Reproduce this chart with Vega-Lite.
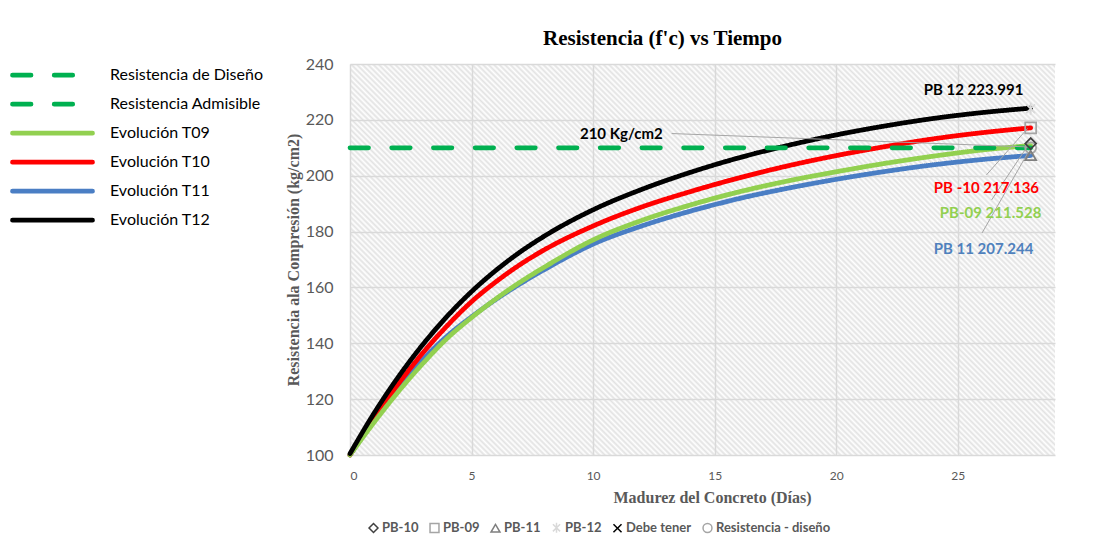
{
"$schema": "https://vega.github.io/schema/vega-lite/v6.json",
"width": 705, "height": 391,
"autosize": {"type": "none"},
"padding": {"left": 350, "top": 64, "right": 43, "bottom": 93},
"background": "white",
"view": {"stroke": null, "fill": {"gradient": "linear", "x1": 0, "y1": 1, "x2": 1.1889, "y2": 0.3406, "stops": [
{"offset":0,"color":"#fff"},{"offset":0.0025,"color":"#e2e2e2"},{"offset":0.005,"color":"#fff"},{"offset":0.0075,"color":"#e2e2e2"},
{"offset":0.01,"color":"#fff"},{"offset":0.0125,"color":"#e2e2e2"},{"offset":0.015,"color":"#fff"},{"offset":0.0175,"color":"#e2e2e2"},
{"offset":0.02,"color":"#fff"},{"offset":0.0225,"color":"#e2e2e2"},{"offset":0.025,"color":"#fff"},{"offset":0.0275,"color":"#e2e2e2"},
{"offset":0.03,"color":"#fff"},{"offset":0.0325,"color":"#e2e2e2"},{"offset":0.035,"color":"#fff"},{"offset":0.0375,"color":"#e2e2e2"},
{"offset":0.04,"color":"#fff"},{"offset":0.0425,"color":"#e2e2e2"},{"offset":0.045,"color":"#fff"},{"offset":0.0475,"color":"#e2e2e2"},
{"offset":0.05,"color":"#fff"},{"offset":0.0525,"color":"#e2e2e2"},{"offset":0.055,"color":"#fff"},{"offset":0.0575,"color":"#e2e2e2"},
{"offset":0.06,"color":"#fff"},{"offset":0.0625,"color":"#e2e2e2"},{"offset":0.065,"color":"#fff"},{"offset":0.0675,"color":"#e2e2e2"},
{"offset":0.07,"color":"#fff"},{"offset":0.0725,"color":"#e2e2e2"},{"offset":0.075,"color":"#fff"},{"offset":0.0775,"color":"#e2e2e2"},
{"offset":0.08,"color":"#fff"},{"offset":0.0825,"color":"#e2e2e2"},{"offset":0.085,"color":"#fff"},{"offset":0.0875,"color":"#e2e2e2"},
{"offset":0.09,"color":"#fff"},{"offset":0.0925,"color":"#e2e2e2"},{"offset":0.095,"color":"#fff"},{"offset":0.0975,"color":"#e2e2e2"},
{"offset":0.10,"color":"#fff"},{"offset":0.1025,"color":"#e2e2e2"},{"offset":0.105,"color":"#fff"},{"offset":0.1075,"color":"#e2e2e2"},
{"offset":0.11,"color":"#fff"},{"offset":0.1125,"color":"#e2e2e2"},{"offset":0.115,"color":"#fff"},{"offset":0.1175,"color":"#e2e2e2"},
{"offset":0.12,"color":"#fff"},{"offset":0.1225,"color":"#e2e2e2"},{"offset":0.125,"color":"#fff"},{"offset":0.1275,"color":"#e2e2e2"},
{"offset":0.13,"color":"#fff"},{"offset":0.1325,"color":"#e2e2e2"},{"offset":0.135,"color":"#fff"},{"offset":0.1375,"color":"#e2e2e2"},
{"offset":0.14,"color":"#fff"},{"offset":0.1425,"color":"#e2e2e2"},{"offset":0.145,"color":"#fff"},{"offset":0.1475,"color":"#e2e2e2"},
{"offset":0.15,"color":"#fff"},{"offset":0.1525,"color":"#e2e2e2"},{"offset":0.155,"color":"#fff"},{"offset":0.1575,"color":"#e2e2e2"},
{"offset":0.16,"color":"#fff"},{"offset":0.1625,"color":"#e2e2e2"},{"offset":0.165,"color":"#fff"},{"offset":0.1675,"color":"#e2e2e2"},
{"offset":0.17,"color":"#fff"},{"offset":0.1725,"color":"#e2e2e2"},{"offset":0.175,"color":"#fff"},{"offset":0.1775,"color":"#e2e2e2"},
{"offset":0.18,"color":"#fff"},{"offset":0.1825,"color":"#e2e2e2"},{"offset":0.185,"color":"#fff"},{"offset":0.1875,"color":"#e2e2e2"},
{"offset":0.19,"color":"#fff"},{"offset":0.1925,"color":"#e2e2e2"},{"offset":0.195,"color":"#fff"},{"offset":0.1975,"color":"#e2e2e2"},
{"offset":0.20,"color":"#fff"},{"offset":0.2025,"color":"#e2e2e2"},{"offset":0.205,"color":"#fff"},{"offset":0.2075,"color":"#e2e2e2"},
{"offset":0.21,"color":"#fff"},{"offset":0.2125,"color":"#e2e2e2"},{"offset":0.215,"color":"#fff"},{"offset":0.2175,"color":"#e2e2e2"},
{"offset":0.22,"color":"#fff"},{"offset":0.2225,"color":"#e2e2e2"},{"offset":0.225,"color":"#fff"},{"offset":0.2275,"color":"#e2e2e2"},
{"offset":0.23,"color":"#fff"},{"offset":0.2325,"color":"#e2e2e2"},{"offset":0.235,"color":"#fff"},{"offset":0.2375,"color":"#e2e2e2"},
{"offset":0.24,"color":"#fff"},{"offset":0.2425,"color":"#e2e2e2"},{"offset":0.245,"color":"#fff"},{"offset":0.2475,"color":"#e2e2e2"},
{"offset":0.25,"color":"#fff"},{"offset":0.2525,"color":"#e2e2e2"},{"offset":0.255,"color":"#fff"},{"offset":0.2575,"color":"#e2e2e2"},
{"offset":0.26,"color":"#fff"},{"offset":0.2625,"color":"#e2e2e2"},{"offset":0.265,"color":"#fff"},{"offset":0.2675,"color":"#e2e2e2"},
{"offset":0.27,"color":"#fff"},{"offset":0.2725,"color":"#e2e2e2"},{"offset":0.275,"color":"#fff"},{"offset":0.2775,"color":"#e2e2e2"},
{"offset":0.28,"color":"#fff"},{"offset":0.2825,"color":"#e2e2e2"},{"offset":0.285,"color":"#fff"},{"offset":0.2875,"color":"#e2e2e2"},
{"offset":0.29,"color":"#fff"},{"offset":0.2925,"color":"#e2e2e2"},{"offset":0.295,"color":"#fff"},{"offset":0.2975,"color":"#e2e2e2"},
{"offset":0.30,"color":"#fff"},{"offset":0.3025,"color":"#e2e2e2"},{"offset":0.305,"color":"#fff"},{"offset":0.3075,"color":"#e2e2e2"},
{"offset":0.31,"color":"#fff"},{"offset":0.3125,"color":"#e2e2e2"},{"offset":0.315,"color":"#fff"},{"offset":0.3175,"color":"#e2e2e2"},
{"offset":0.32,"color":"#fff"},{"offset":0.3225,"color":"#e2e2e2"},{"offset":0.325,"color":"#fff"},{"offset":0.3275,"color":"#e2e2e2"},
{"offset":0.33,"color":"#fff"},{"offset":0.3325,"color":"#e2e2e2"},{"offset":0.335,"color":"#fff"},{"offset":0.3375,"color":"#e2e2e2"},
{"offset":0.34,"color":"#fff"},{"offset":0.3425,"color":"#e2e2e2"},{"offset":0.345,"color":"#fff"},{"offset":0.3475,"color":"#e2e2e2"},
{"offset":0.35,"color":"#fff"},{"offset":0.3525,"color":"#e2e2e2"},{"offset":0.355,"color":"#fff"},{"offset":0.3575,"color":"#e2e2e2"},
{"offset":0.36,"color":"#fff"},{"offset":0.3625,"color":"#e2e2e2"},{"offset":0.365,"color":"#fff"},{"offset":0.3675,"color":"#e2e2e2"},
{"offset":0.37,"color":"#fff"},{"offset":0.3725,"color":"#e2e2e2"},{"offset":0.375,"color":"#fff"},{"offset":0.3775,"color":"#e2e2e2"},
{"offset":0.38,"color":"#fff"},{"offset":0.3825,"color":"#e2e2e2"},{"offset":0.385,"color":"#fff"},{"offset":0.3875,"color":"#e2e2e2"},
{"offset":0.39,"color":"#fff"},{"offset":0.3925,"color":"#e2e2e2"},{"offset":0.395,"color":"#fff"},{"offset":0.3975,"color":"#e2e2e2"},
{"offset":0.40,"color":"#fff"},{"offset":0.4025,"color":"#e2e2e2"},{"offset":0.405,"color":"#fff"},{"offset":0.4075,"color":"#e2e2e2"},
{"offset":0.41,"color":"#fff"},{"offset":0.4125,"color":"#e2e2e2"},{"offset":0.415,"color":"#fff"},{"offset":0.4175,"color":"#e2e2e2"},
{"offset":0.42,"color":"#fff"},{"offset":0.4225,"color":"#e2e2e2"},{"offset":0.425,"color":"#fff"},{"offset":0.4275,"color":"#e2e2e2"},
{"offset":0.43,"color":"#fff"},{"offset":0.4325,"color":"#e2e2e2"},{"offset":0.435,"color":"#fff"},{"offset":0.4375,"color":"#e2e2e2"},
{"offset":0.44,"color":"#fff"},{"offset":0.4425,"color":"#e2e2e2"},{"offset":0.445,"color":"#fff"},{"offset":0.4475,"color":"#e2e2e2"},
{"offset":0.45,"color":"#fff"},{"offset":0.4525,"color":"#e2e2e2"},{"offset":0.455,"color":"#fff"},{"offset":0.4575,"color":"#e2e2e2"},
{"offset":0.46,"color":"#fff"},{"offset":0.4625,"color":"#e2e2e2"},{"offset":0.465,"color":"#fff"},{"offset":0.4675,"color":"#e2e2e2"},
{"offset":0.47,"color":"#fff"},{"offset":0.4725,"color":"#e2e2e2"},{"offset":0.475,"color":"#fff"},{"offset":0.4775,"color":"#e2e2e2"},
{"offset":0.48,"color":"#fff"},{"offset":0.4825,"color":"#e2e2e2"},{"offset":0.485,"color":"#fff"},{"offset":0.4875,"color":"#e2e2e2"},
{"offset":0.49,"color":"#fff"},{"offset":0.4925,"color":"#e2e2e2"},{"offset":0.495,"color":"#fff"},{"offset":0.4975,"color":"#e2e2e2"},
{"offset":0.50,"color":"#fff"},{"offset":0.5025,"color":"#e2e2e2"},{"offset":0.505,"color":"#fff"},{"offset":0.5075,"color":"#e2e2e2"},
{"offset":0.51,"color":"#fff"},{"offset":0.5125,"color":"#e2e2e2"},{"offset":0.515,"color":"#fff"},{"offset":0.5175,"color":"#e2e2e2"},
{"offset":0.52,"color":"#fff"},{"offset":0.5225,"color":"#e2e2e2"},{"offset":0.525,"color":"#fff"},{"offset":0.5275,"color":"#e2e2e2"},
{"offset":0.53,"color":"#fff"},{"offset":0.5325,"color":"#e2e2e2"},{"offset":0.535,"color":"#fff"},{"offset":0.5375,"color":"#e2e2e2"},
{"offset":0.54,"color":"#fff"},{"offset":0.5425,"color":"#e2e2e2"},{"offset":0.545,"color":"#fff"},{"offset":0.5475,"color":"#e2e2e2"},
{"offset":0.55,"color":"#fff"},{"offset":0.5525,"color":"#e2e2e2"},{"offset":0.555,"color":"#fff"},{"offset":0.5575,"color":"#e2e2e2"},
{"offset":0.56,"color":"#fff"},{"offset":0.5625,"color":"#e2e2e2"},{"offset":0.565,"color":"#fff"},{"offset":0.5675,"color":"#e2e2e2"},
{"offset":0.57,"color":"#fff"},{"offset":0.5725,"color":"#e2e2e2"},{"offset":0.575,"color":"#fff"},{"offset":0.5775,"color":"#e2e2e2"},
{"offset":0.58,"color":"#fff"},{"offset":0.5825,"color":"#e2e2e2"},{"offset":0.585,"color":"#fff"},{"offset":0.5875,"color":"#e2e2e2"},
{"offset":0.59,"color":"#fff"},{"offset":0.5925,"color":"#e2e2e2"},{"offset":0.595,"color":"#fff"},{"offset":0.5975,"color":"#e2e2e2"},
{"offset":0.60,"color":"#fff"},{"offset":0.6025,"color":"#e2e2e2"},{"offset":0.605,"color":"#fff"},{"offset":0.6075,"color":"#e2e2e2"},
{"offset":0.61,"color":"#fff"},{"offset":0.6125,"color":"#e2e2e2"},{"offset":0.615,"color":"#fff"},{"offset":0.6175,"color":"#e2e2e2"},
{"offset":0.62,"color":"#fff"},{"offset":0.6225,"color":"#e2e2e2"},{"offset":0.625,"color":"#fff"},{"offset":0.6275,"color":"#e2e2e2"},
{"offset":0.63,"color":"#fff"},{"offset":0.6325,"color":"#e2e2e2"},{"offset":0.635,"color":"#fff"},{"offset":0.6375,"color":"#e2e2e2"},
{"offset":0.64,"color":"#fff"},{"offset":0.6425,"color":"#e2e2e2"},{"offset":0.645,"color":"#fff"},{"offset":0.6475,"color":"#e2e2e2"},
{"offset":0.65,"color":"#fff"},{"offset":0.6525,"color":"#e2e2e2"},{"offset":0.655,"color":"#fff"},{"offset":0.6575,"color":"#e2e2e2"},
{"offset":0.66,"color":"#fff"},{"offset":0.6625,"color":"#e2e2e2"},{"offset":0.665,"color":"#fff"},{"offset":0.6675,"color":"#e2e2e2"},
{"offset":0.67,"color":"#fff"},{"offset":0.6725,"color":"#e2e2e2"},{"offset":0.675,"color":"#fff"},{"offset":0.6775,"color":"#e2e2e2"},
{"offset":0.68,"color":"#fff"},{"offset":0.6825,"color":"#e2e2e2"},{"offset":0.685,"color":"#fff"},{"offset":0.6875,"color":"#e2e2e2"},
{"offset":0.69,"color":"#fff"},{"offset":0.6925,"color":"#e2e2e2"},{"offset":0.695,"color":"#fff"},{"offset":0.6975,"color":"#e2e2e2"},
{"offset":0.70,"color":"#fff"},{"offset":0.7025,"color":"#e2e2e2"},{"offset":0.705,"color":"#fff"},{"offset":0.7075,"color":"#e2e2e2"},
{"offset":0.71,"color":"#fff"},{"offset":0.7125,"color":"#e2e2e2"},{"offset":0.715,"color":"#fff"},{"offset":0.7175,"color":"#e2e2e2"},
{"offset":0.72,"color":"#fff"},{"offset":0.7225,"color":"#e2e2e2"},{"offset":0.725,"color":"#fff"},{"offset":0.7275,"color":"#e2e2e2"},
{"offset":0.73,"color":"#fff"},{"offset":0.7325,"color":"#e2e2e2"},{"offset":0.735,"color":"#fff"},{"offset":0.7375,"color":"#e2e2e2"},
{"offset":0.74,"color":"#fff"},{"offset":0.7425,"color":"#e2e2e2"},{"offset":0.745,"color":"#fff"},{"offset":0.7475,"color":"#e2e2e2"},
{"offset":0.75,"color":"#fff"},{"offset":0.7525,"color":"#e2e2e2"},{"offset":0.755,"color":"#fff"},{"offset":0.7575,"color":"#e2e2e2"},
{"offset":0.76,"color":"#fff"},{"offset":0.7625,"color":"#e2e2e2"},{"offset":0.765,"color":"#fff"},{"offset":0.7675,"color":"#e2e2e2"},
{"offset":0.77,"color":"#fff"},{"offset":0.7725,"color":"#e2e2e2"},{"offset":0.775,"color":"#fff"},{"offset":0.7775,"color":"#e2e2e2"},
{"offset":0.78,"color":"#fff"},{"offset":0.7825,"color":"#e2e2e2"},{"offset":0.785,"color":"#fff"},{"offset":0.7875,"color":"#e2e2e2"},
{"offset":0.79,"color":"#fff"},{"offset":0.7925,"color":"#e2e2e2"},{"offset":0.795,"color":"#fff"},{"offset":0.7975,"color":"#e2e2e2"},
{"offset":0.80,"color":"#fff"},{"offset":0.8025,"color":"#e2e2e2"},{"offset":0.805,"color":"#fff"},{"offset":0.8075,"color":"#e2e2e2"},
{"offset":0.81,"color":"#fff"},{"offset":0.8125,"color":"#e2e2e2"},{"offset":0.815,"color":"#fff"},{"offset":0.8175,"color":"#e2e2e2"},
{"offset":0.82,"color":"#fff"},{"offset":0.8225,"color":"#e2e2e2"},{"offset":0.825,"color":"#fff"},{"offset":0.8275,"color":"#e2e2e2"},
{"offset":0.83,"color":"#fff"},{"offset":0.8325,"color":"#e2e2e2"},{"offset":0.835,"color":"#fff"},{"offset":0.8375,"color":"#e2e2e2"},
{"offset":0.84,"color":"#fff"},{"offset":0.8425,"color":"#e2e2e2"},{"offset":0.845,"color":"#fff"},{"offset":0.8475,"color":"#e2e2e2"},
{"offset":0.85,"color":"#fff"},{"offset":0.8525,"color":"#e2e2e2"},{"offset":0.855,"color":"#fff"},{"offset":0.8575,"color":"#e2e2e2"},
{"offset":0.86,"color":"#fff"},{"offset":0.8625,"color":"#e2e2e2"},{"offset":0.865,"color":"#fff"},{"offset":0.8675,"color":"#e2e2e2"},
{"offset":0.87,"color":"#fff"},{"offset":0.8725,"color":"#e2e2e2"},{"offset":0.875,"color":"#fff"},{"offset":0.8775,"color":"#e2e2e2"},
{"offset":0.88,"color":"#fff"},{"offset":0.8825,"color":"#e2e2e2"},{"offset":0.885,"color":"#fff"},{"offset":0.8875,"color":"#e2e2e2"},
{"offset":0.89,"color":"#fff"},{"offset":0.8925,"color":"#e2e2e2"},{"offset":0.895,"color":"#fff"},{"offset":0.8975,"color":"#e2e2e2"},
{"offset":0.90,"color":"#fff"},{"offset":0.9025,"color":"#e2e2e2"},{"offset":0.905,"color":"#fff"},{"offset":0.9075,"color":"#e2e2e2"},
{"offset":0.91,"color":"#fff"},{"offset":0.9125,"color":"#e2e2e2"},{"offset":0.915,"color":"#fff"},{"offset":0.9175,"color":"#e2e2e2"},
{"offset":0.92,"color":"#fff"},{"offset":0.9225,"color":"#e2e2e2"},{"offset":0.925,"color":"#fff"},{"offset":0.9275,"color":"#e2e2e2"},
{"offset":0.93,"color":"#fff"},{"offset":0.9325,"color":"#e2e2e2"},{"offset":0.935,"color":"#fff"},{"offset":0.9375,"color":"#e2e2e2"},
{"offset":0.94,"color":"#fff"},{"offset":0.9425,"color":"#e2e2e2"},{"offset":0.945,"color":"#fff"},{"offset":0.9475,"color":"#e2e2e2"},
{"offset":0.95,"color":"#fff"},{"offset":0.9525,"color":"#e2e2e2"},{"offset":0.955,"color":"#fff"},{"offset":0.9575,"color":"#e2e2e2"},
{"offset":0.96,"color":"#fff"},{"offset":0.9625,"color":"#e2e2e2"},{"offset":0.965,"color":"#fff"},{"offset":0.9675,"color":"#e2e2e2"},
{"offset":0.97,"color":"#fff"},{"offset":0.9725,"color":"#e2e2e2"},{"offset":0.975,"color":"#fff"},{"offset":0.9775,"color":"#e2e2e2"},
{"offset":0.98,"color":"#fff"},{"offset":0.9825,"color":"#e2e2e2"},{"offset":0.985,"color":"#fff"},{"offset":0.9875,"color":"#e2e2e2"},
{"offset":0.99,"color":"#fff"},{"offset":0.9925,"color":"#e2e2e2"},{"offset":0.995,"color":"#fff"},{"offset":0.9975,"color":"#e2e2e2"},
{"offset":1,"color":"#fff"}
]}},
"title": {"text": "Resistencia (f'c) vs Tiempo", "font": "Liberation Serif", "fontSize": 21, "fontWeight": "bold", "color": "#000000", "anchor": "middle", "dx": -40, "offset": 7},
"config": {"font": "Lato"},
"datasets": {
"curvas": [
{"serie":"Evolución T11","t":0,"v":100},{"serie":"Evolución T11","t":1,"v":112.6},{"serie":"Evolución T11","t":2,"v":124.1},{"serie":"Evolución T11","t":3,"v":134.2},{"serie":"Evolución T11","t":4,"v":142.6},{"serie":"Evolución T11","t":5,"v":149.5},{"serie":"Evolución T11","t":6,"v":155.7},{"serie":"Evolución T11","t":7,"v":161.3},{"serie":"Evolución T11","t":8,"v":166.4},{"serie":"Evolución T11","t":10,"v":175.5},{"serie":"Evolución T11","t":12,"v":182},{"serie":"Evolución T11","t":14,"v":187.3},{"serie":"Evolución T11","t":16,"v":191.8},{"serie":"Evolución T11","t":18,"v":195.5},{"serie":"Evolución T11","t":20,"v":198.7},{"serie":"Evolución T11","t":22,"v":201.5},{"serie":"Evolución T11","t":24,"v":203.9},{"serie":"Evolución T11","t":26,"v":205.8},{"serie":"Evolución T11","t":28,"v":207.244},
{"serie":"Evolución T10","t":0,"v":100},{"serie":"Evolución T10","t":1,"v":113.4},{"serie":"Evolución T10","t":2,"v":125.6},{"serie":"Evolución T10","t":3,"v":136.6},{"serie":"Evolución T10","t":4,"v":146.3},{"serie":"Evolución T10","t":5,"v":154.9},{"serie":"Evolución T10","t":6,"v":162},{"serie":"Evolución T10","t":7,"v":168.2},{"serie":"Evolución T10","t":8,"v":173.5},{"serie":"Evolución T10","t":10,"v":182},{"serie":"Evolución T10","t":12,"v":188.8},{"serie":"Evolución T10","t":14,"v":194.3},{"serie":"Evolución T10","t":16,"v":199.2},{"serie":"Evolución T10","t":18,"v":203.5},{"serie":"Evolución T10","t":20,"v":207.2},{"serie":"Evolución T10","t":22,"v":210.4},{"serie":"Evolución T10","t":24,"v":213.2},{"serie":"Evolución T10","t":26,"v":215.4},{"serie":"Evolución T10","t":28,"v":217.136},
{"serie":"Evolución T09","t":0,"v":100},{"serie":"Evolución T09","t":1,"v":111.8},{"serie":"Evolución T09","t":2,"v":122.8},{"serie":"Evolución T09","t":3,"v":132.8},{"serie":"Evolución T09","t":4,"v":141.8},{"serie":"Evolución T09","t":5,"v":149.2},{"serie":"Evolución T09","t":6,"v":155.9},{"serie":"Evolución T09","t":7,"v":161.9},{"serie":"Evolución T09","t":8,"v":167.3},{"serie":"Evolución T09","t":10,"v":177},{"serie":"Evolución T09","t":12,"v":184},{"serie":"Evolución T09","t":14,"v":189.5},{"serie":"Evolución T09","t":16,"v":194.2},{"serie":"Evolución T09","t":18,"v":198.1},{"serie":"Evolución T09","t":20,"v":201.4},{"serie":"Evolución T09","t":22,"v":204.4},{"serie":"Evolución T09","t":24,"v":207},{"serie":"Evolución T09","t":26,"v":209.2},{"serie":"Evolución T09","t":28,"v":210.8},
{"serie":"Evolución T12","t":0,"v":100.5},{"serie":"Evolución T12","t":1,"v":115.1},{"serie":"Evolución T12","t":2,"v":128.1},{"serie":"Evolución T12","t":3,"v":139.6},{"serie":"Evolución T12","t":4,"v":149.7},{"serie":"Evolución T12","t":5,"v":158.5},{"serie":"Evolución T12","t":6,"v":166.1},{"serie":"Evolución T12","t":7,"v":172.7},{"serie":"Evolución T12","t":8,"v":178.4},{"serie":"Evolución T12","t":10,"v":187.8},{"serie":"Evolución T12","t":12,"v":195.1},{"serie":"Evolución T12","t":14,"v":201.2},{"serie":"Evolución T12","t":16,"v":206.4},{"serie":"Evolución T12","t":18,"v":210.8},{"serie":"Evolución T12","t":20,"v":214.6},{"serie":"Evolución T12","t":22,"v":217.8},{"serie":"Evolución T12","t":24,"v":220.5},{"serie":"Evolución T12","t":26,"v":222.6},{"serie":"Evolución T12","t":28,"v":224.2},
{"serie":"Resistencia de Diseño","t":0,"v":210},{"serie":"Resistencia de Diseño","t":28,"v":210}
],
"marcas": [
{"marca":"Resistencia - diseño","t":28,"v":210},
{"marca":"PB-11","t":28,"v":207.244},
{"marca":"PB-10","t":28,"v":211.528},
{"marca":"PB-09","t":28,"v":217.136},
{"marca":"PB-12","t":28,"v":223.991}
],
"guias": [
{"t":13.23,"v":215.1,"t2":27.9,"v2":210.3},
{"t":26.18,"v":200.3,"t2":27.87,"v2":216.9},
{"t":26.39,"v":191.3,"t2":27.87,"v2":210.6},
{"t":26.0,"v":179.5,"t2":27.87,"v2":208.0}
],
"etiquetas": [
{"label":"210 Kg/cm2","t":11.16,"v":215.1},
{"label":"PB 12 223.991","t":25.65,"v":230.7},
{"label":"PB -10 217.136","t":26.18,"v":195.6},
{"label":"PB-09 211.528","t":26.35,"v":186.5},
{"label":"PB 11 207.244","t":26.06,"v":173.8}
]
},
"layer": [
{
"data": {"name": "curvas"},
"mark": {"type": "line", "interpolate": "monotone", "strokeCap": "round"},
"encoding": {
"x": {"field": "t", "type": "quantitative",
"scale": {"domain": [0, 29], "nice": false, "zero": false},
"axis": {"values": [0, 5, 10, 15, 20, 25], "title": "Madurez del Concreto (Días)", "grid": true, "gridColor": "#d9d9d9", "gridWidth": 1.5, "domain": false, "ticks": false, "tickSize": 0, "labelFont": "Lato", "labelFontSize": 12, "labelColor": "#595959", "labelPadding": 15, "titleFont": "Liberation Serif", "titleFontSize": 16, "titleFontWeight": "bold", "titleColor": "#595959", "titleX": 362, "titleY": 42, "titleBaseline": "middle", "titleAlign": "center"}},
"y": {"field": "v", "type": "quantitative",
"scale": {"domain": [100, 240], "nice": false, "zero": false},
"axis": {"values": [100, 120, 140, 160, 180, 200, 220, 240], "title": "Resistencia ala Compresión (kg/cm2)", "grid": true, "gridColor": "#d9d9d9", "gridWidth": 1.5, "domain": false, "ticks": false, "tickSize": 0, "labelFont": "Lato", "labelFontSize": 16, "labelColor": "#595959", "labelPadding": 17, "titleFont": "Liberation Serif", "titleFontSize": 16, "titleFontWeight": "bold", "titleColor": "#595959", "titleX": -57, "titleY": 195.5, "titleAngle": -90, "titleAlign": "center", "titleBaseline": "middle"}},
"stroke": {"field": "serie", "type": "nominal",
"scale": {"domain": ["Resistencia de Diseño", "Resistencia Admisible", "Evolución T09", "Evolución T10", "Evolución T11", "Evolución T12"], "range": ["#00B050", "#00B050", "#92D050", "#FF0000", "#4A7EC4", "#000000"]},
"legend": {"title": null, "orient": "none", "legendX": -340, "legendY": -2, "direction": "vertical", "symbolType": "stroke", "symbolSize": 6400, "symbolStrokeWidth": 4, "clipHeight": 26.4, "rowPadding": 2, "labelOffset": 15, "labelFont": "Lato", "labelFontSize": 16, "labelColor": "#000000", "labelLimit": 400, "padding": 0,
"encode": {"symbols": {"update": {"strokeDash": {"signal": "indexof(datum.value, 'Resistencia') === 0 ? [11, 20] : [1, 0]"}, "strokeCap": {"value": "round"}}}}}},
"strokeDash": {"field": "serie", "type": "nominal",
"scale": {"domain": ["Resistencia de Diseño", "Resistencia Admisible", "Evolución T09", "Evolución T10", "Evolución T11", "Evolución T12"], "range": [[18.5, 23.2], [18.5, 23.2], [1, 0], [1, 0], [1, 0], [1, 0]]},
"legend": {"title": null, "orient": "none", "legendX": -340, "legendY": -2, "direction": "vertical", "symbolType": "stroke", "symbolSize": 6400, "symbolStrokeWidth": 4, "clipHeight": 26.4, "rowPadding": 2, "labelOffset": 15, "labelFont": "Lato", "labelFontSize": 16, "labelColor": "#000000", "labelLimit": 400, "padding": 0}},
"strokeWidth": {"field": "serie", "type": "nominal",
"scale": {"domain": ["Resistencia de Diseño", "Resistencia Admisible", "Evolución T09", "Evolución T10", "Evolución T11", "Evolución T12"], "range": [4.75, 4.75, 3.75, 3.75, 3.75, 3.75]}, "legend": null}
}
},
{
"data": {"name": "guias"},
"mark": {"type": "rule", "color": "#a6a6a6", "strokeWidth": 1},
"encoding": {
"x": {"field": "t", "type": "quantitative"},
"x2": {"field": "t2"},
"y": {"field": "v", "type": "quantitative"},
"y2": {"field": "v2"}
}
},
{
"data": {"name": "marcas"},
"mark": {"type": "point", "filled": false, "strokeWidth": 1.75, "size": 120, "opacity": 1},
"encoding": {
"x": {"field": "t", "type": "quantitative"},
"y": {"field": "v", "type": "quantitative"},
"color": {"field": "marca", "type": "nominal",
"scale": {"domain": ["PB-10", "PB-09", "PB-11", "PB-12", "Debe tener", "Resistencia - diseño"], "range": ["#404040", "#a5a5a5", "#7f7f7f", "#d9d9d9", "#000000", "#a5a5a5"]},
"legend": {"title": null, "orient": "none", "legendX": 17, "legendY": 457, "direction": "horizontal", "columns": 6, "symbolSize": 80, "symbolStrokeWidth": 1.5, "labelOffset": 2, "columnPadding": 8, "labelFont": "Lato", "labelFontSize": 13, "labelFontWeight": "bold", "labelColor": "#595959", "padding": 0}},
"shape": {"field": "marca", "type": "nominal",
"scale": {"domain": ["PB-10", "PB-09", "PB-11", "PB-12", "Debe tener", "Resistencia - diseño"], "range": ["diamond", "square", "triangle-up", "M-0.8,-0.8L0.8,0.8M-0.8,0.8L0.8,-0.8M0,-1.1L0,1.1", "M-0.9,-0.9L0.9,0.9M-0.9,0.9L0.9,-0.9", "circle"]},
"legend": {"title": null, "orient": "none", "legendX": 17, "legendY": 457, "direction": "horizontal", "columns": 6, "symbolSize": 80, "symbolStrokeWidth": 1.5, "labelOffset": 2, "columnPadding": 8, "labelFont": "Lato", "labelFontSize": 13, "labelFontWeight": "bold", "labelColor": "#595959", "padding": 0}}
}
},
{
"data": {"name": "etiquetas"},
"mark": {"type": "text", "font": "Lato", "fontSize": 15, "fontWeight": "bold", "align": "center", "baseline": "middle"},
"encoding": {
"x": {"field": "t", "type": "quantitative"},
"y": {"field": "v", "type": "quantitative"},
"text": {"field": "label"},
"fill": {"field": "label", "type": "nominal",
"scale": {"domain": ["210 Kg/cm2", "PB 12 223.991", "PB -10 217.136", "PB-09 211.528", "PB 11 207.244"], "range": ["#000000", "#000000", "#FF0000", "#92D050", "#4F81BD"]},
"legend": null}
}
}
]
}
